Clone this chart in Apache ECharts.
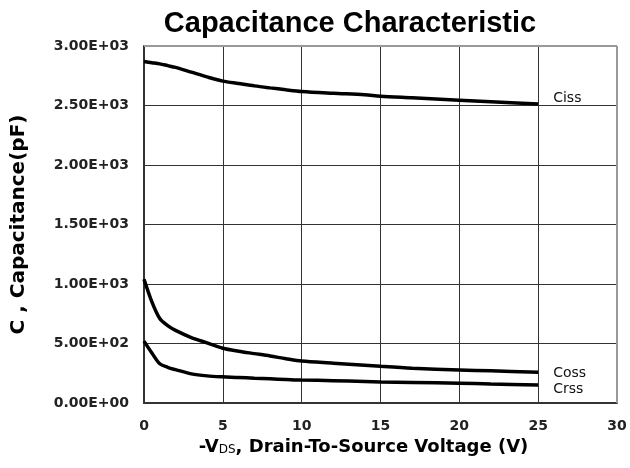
<!DOCTYPE html>
<html>
<head>
<meta charset="utf-8">
<script src="https://cdn.jsdelivr.net/npm/echarts@6/dist/echarts.min.js"></script>
<style>
  html, body { margin: 0; padding: 0; background: #fff; }
  #chart { width: 630px; height: 468px; }
</style>
</head>
<body>
<div id="chart"></div>
<script>
// -VDS (V)
var vds = [0, 0.5, 1, 1.5, 2, 3, 4, 5, 6, 7, 8, 9, 10, 12, 14, 15, 17, 20, 22, 25];
// capacitances (pF)
var ciss = [2870, 2860, 2850, 2835, 2820, 2780, 2740, 2705, 2685, 2665, 2648, 2632, 2618, 2603, 2590, 2578, 2565, 2545, 2532, 2512];
var coss = [1040, 850, 710, 650, 610, 550, 505, 460, 435, 415, 395, 372, 352, 335, 318, 308, 292, 278, 270, 258];
var crss = [520, 420, 330, 300, 280, 245, 228, 220, 215, 208, 203, 198, 193, 188, 180, 176, 172, 166, 160, 152];
var yTicks = [0, 500, 1000, 1500, 2000, 2500, 3000];

function pairs(ys) {
    return vds.map(function (x, i) { return [x, ys[i]]; });
}
function sci(v) {
    if (v === 0) return '0.00E+00';
    var e = Math.floor(Math.log10(v));
    var m = v / Math.pow(10, e);
    return m.toFixed(2) + 'E+' + (e < 10 ? '0' + e : e);
}

var myChart = echarts.init(document.getElementById('chart'));
var font = 'Liberation Sans';
var wide = 'DejaVu Sans';

function curve(name, ys, off) {
    return {
        name: name,
        type: 'line',
        data: pairs(ys),
        smooth: 0.3,
        symbol: 'none',
        lineStyle: { color: '#000', width: 3.5 },
        endLabel: {
            show: true,
            formatter: name,
            color: '#111',
            fontFamily: wide,
            fontSize: 14,
            offset: off
        }
    };
}

var option = {
    animation: false,
    title: {
        text: 'Capacitance Characteristic',
        left: 345,
        textAlign: 'center',
        top: 4,
        textStyle: { fontFamily: font, fontSize: 29, fontWeight: 'bold', color: '#000' }
    },
    grid: { left: 144, right: 13, top: 46, bottom: 65 },
    xAxis: {
        type: 'value',
        min: 0,
        max: 30,
        interval: 5,
        name: '{a|-V}{s|DS}{a|, Drain-To-Source Voltage (V)}',
        nameLocation: 'middle',
        nameGap: 31,
        nameTextStyle: {
            padding: [0, 34, 0, 0],
            rich: {
                a: { fontFamily: wide, fontSize: 18, fontWeight: 'bold', color: '#000' },
                s: { fontFamily: wide, fontSize: 12, color: '#000', padding: [6, 0, 0, 0] }
            }
        },
        axisLine: { lineStyle: { color: '#333', width: 2 } },
        axisTick: { show: false },
        axisLabel: { fontFamily: wide, fontSize: 14, fontWeight: 'bold', color: '#222', margin: 16 },
        splitLine: { lineStyle: { color: '#333', width: 1 } }
    },
    yAxis: {
        type: 'value',
        min: yTicks[0],
        max: yTicks[yTicks.length - 1],
        interval: 500,
        name: 'C , Capacitance(pF)',
        nameLocation: 'middle',
        nameGap: 115,
        nameTextStyle: { fontFamily: wide, fontSize: 20, fontWeight: 'bold', color: '#000' },
        axisLine: { show: true, lineStyle: { color: '#333', width: 2 } },
        axisTick: { show: false },
        axisLabel: {
            fontFamily: wide, fontSize: 14, fontWeight: 'bold', color: '#222', margin: 15,
            formatter: function (v) { return sci(v); }
        },
        splitLine: { lineStyle: { color: '#333', width: 1 } }
    },
    series: [
        curve('Ciss', ciss, [7, -6]),
        curve('Coss', coss, [7, 1]),
        curve('Crss', crss, [7, 4]),
        {
            type: 'line',
            data: [],
            markLine: {
                silent: true,
                symbol: 'none',
                label: { show: false },
                lineStyle: { color: '#999', width: 2, type: 'solid' },
                data: [
                    [{ coord: [0, 3000] }, { coord: [30, 3000] }],
                    [{ coord: [30, 0] }, { coord: [30, 3000] }]
                ]
            }
        }
    ]
};
myChart.setOption(option);
</script>
</body>
</html>
